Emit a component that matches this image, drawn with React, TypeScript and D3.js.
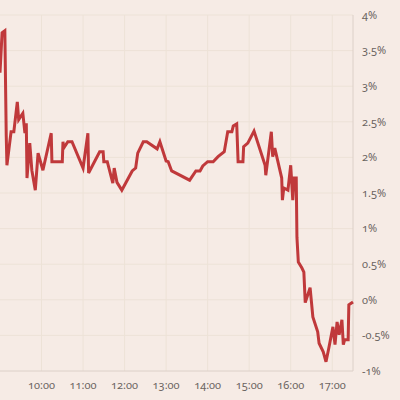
import React from "react";
import * as d3 from "d3";

const times: string[] = [
  "09:00","09:03","09:07","09:09","09:10","09:16","09:20","09:25","09:27","09:33","09:36","09:38","09:39","09:43","09:46","09:51","09:55",
  "10:02","10:14","10:15","10:30","10:31","10:32","10:38","10:44","11:00","11:07","11:08","11:24","11:29","11:30","11:35","11:43","11:45","11:49","11:56",
  "12:11","12:16","12:19","12:27","12:32","12:47","12:51","13:00","13:03","13:08","13:34","13:43","13:49","13:53",
  "14:00","14:08","14:15","14:24","14:29","14:35","14:37","14:42","14:44","14:51","14:52","14:58","15:07",
  "15:23","15:24","15:32","15:34","15:37","15:47","15:48","15:50","15:56","16:00","16:03","16:05","16:08","16:09","16:11","16:16","16:19","16:21",
  "16:28","16:32","16:39","16:41","16:47","16:51","16:55","17:01","17:04","17:07","17:10","17:14","17:16","17:18","17:23","17:24","17:30"
];
const values: number[] = [
  3.19,3.75,3.78,2.31,1.89,2.36,2.36,2.78,2.53,2.62,2.34,2.48,1.71,2.20,1.82,1.54,2.06,
  1.82,2.34,1.94,1.94,2.22,2.13,2.22,2.22,1.85,2.34,1.78,2.08,2.08,1.94,1.94,1.64,1.85,1.65,1.54,
  1.81,1.85,2.06,2.22,2.22,2.12,2.22,1.95,1.94,1.81,1.68,1.81,1.81,1.88,
  1.94,1.94,2.01,2.08,2.36,2.36,2.44,2.47,1.94,1.94,2.15,2.20,2.37,
  1.89,1.75,2.36,2.01,2.13,1.71,1.40,1.57,1.54,1.89,1.40,1.71,1.71,0.88,0.53,0.45,0.39,-0.04,
  0.17,-0.24,-0.45,-0.61,-0.73,-0.87,-0.68,-0.38,-0.63,-0.31,-0.49,-0.28,-0.63,-0.56,-0.56,-0.07,-0.03
];
const xTickLabels: string[] = ["10:00","11:00","12:00","13:00","14:00","15:00","16:00","17:00"];
const yTickValues: number[] = [4,3.5,3,2.5,2,1.5,1,0.5,0,-0.5,-1];

const toMin = (s: string) => {
  const [h, m] = s.split(":").map(Number);
  return h * 60 + m;
};

export default function App() {
  const W = 400, H = 400;
  const x0 = 0, x1 = 353, yTop = 15, yBot = 371;
  const x = d3.scaleLinear().domain([9 * 60, 17 * 60 + 30]).range([x0, x1]);
  const y = d3.scaleLinear().domain([-1, 4]).range([yBot, yTop]);
  const data = times.map((t, i) => ({ t: toMin(t), v: values[i] }));
  const line = d3.line<{ t: number; v: number }>().x(d => x(d.t)).y(d => y(d.v));
  const fmt = (v: number) => `${v}%`;
  const font = "'Noto Sans', sans-serif";
  return (
    <svg width={W} height={H} style={{ position: "absolute", left: 0, top: 0, background: "#f6ebe5" }}>
      <rect x={0} y={0} width={W} height={H} fill="#f6ebe5" />
      {yTickValues.filter(v => v > -1).map(v => (
        <line key={"gy" + v} x1={x0} x2={x1} y1={y(v)} y2={y(v)} stroke="#ede2d7" strokeWidth={1} />
      ))}
      {xTickLabels.map(l => (
        <line key={"gx" + l} x1={x(toMin(l))} x2={x(toMin(l))} y1={yTop} y2={yBot} stroke="#ede2d7" strokeWidth={1} />
      ))}
      <line x1={x1} x2={x1} y1={yTop} y2={yBot} stroke="#dcd0c8" strokeWidth={1} />
      <line x1={x0} x2={x1} y1={yBot} y2={yBot} stroke="#dcd0c8" strokeWidth={1} />
      <path d={line(data) || ""} fill="none" stroke="#c0393b" strokeWidth={3} strokeLinejoin="miter" strokeMiterlimit={4} />
      {yTickValues.map(v => (
        <text key={"ty" + v} x={362} y={y(v)} dy="0.35em" fontFamily={font} fontSize={11} fill="#6b6461"
          style={{ fontVariantNumeric: "oldstyle-nums" }}>{fmt(v)}</text>
      ))}
      {xTickLabels.map(l => (
        <text key={"tx" + l} x={x(toMin(l))} y={389} textAnchor="middle" fontFamily={font} fontSize={11} fill="#6b6461"
          style={{ fontVariantNumeric: "oldstyle-nums" }}>{l}</text>
      ))}
    </svg>
  );
}
